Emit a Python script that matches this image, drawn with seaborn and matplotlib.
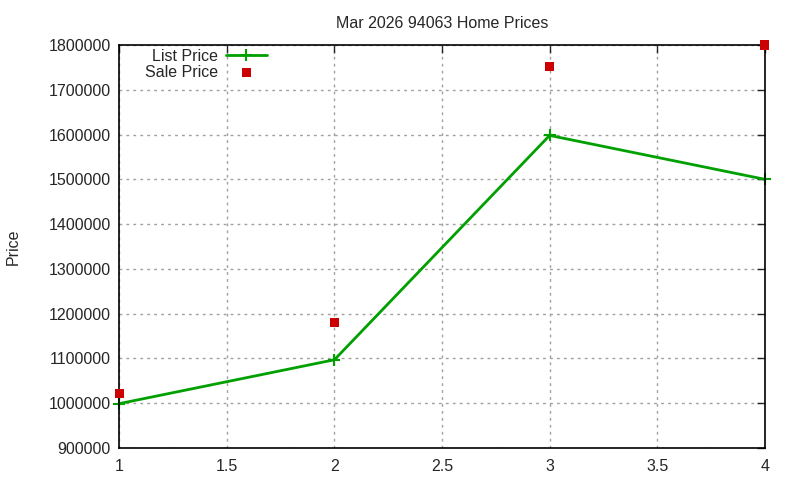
import matplotlib
matplotlib.use("Agg")
import matplotlib.pyplot as plt
import seaborn as sns
import pandas as pd

# data
x_vals = [1, 2, 3, 4]
list_price = [999000, 1097000, 1598000, 1500000]
sale_price = [1022000, 1180000, 1752000, 1800000]
y_ticks = [900000, 1000000, 1100000, 1200000, 1300000, 1400000, 1500000, 1600000, 1700000, 1800000]
x_ticks = [1, 1.5, 2, 2.5, 3, 3.5, 4]

sns.set_style("white")
plt.rcParams['font.family'] = ['Liberation Sans', 'DejaVu Sans']

df = pd.DataFrame({"x": x_vals, "List Price": list_price, "Sale Price": sale_price})

fig = plt.figure(figsize=(8, 4.8), dpi=100)
ax = fig.add_axes([0.149, 0.0667, 0.807, 0.8396])

sns.lineplot(data=df, x="x", y="List Price", ax=ax, color="#00a000", lw=2,
             marker="+", markersize=9, markeredgewidth=1.5, markeredgecolor="#00a000",
             label="List Price", clip_on=False)
sns.scatterplot(data=df, x="x", y="Sale Price", ax=ax, color="#cc0000", marker="s",
                s=45, edgecolor="none", label="Sale Price", zorder=5, clip_on=False)

ax.set_xlim(1, 4)
ax.set_ylim(900000, 1800000)
ax.set_xticks(x_ticks)
ax.set_xticklabels([f"{t:g}" for t in x_ticks])
ax.set_yticks(y_ticks)
ax.set_yticklabels([str(t) for t in y_ticks])
ax.tick_params(direction="in", top=True, right=True, length=6, width=1, labelsize=11.5)
ax.tick_params(axis="x", pad=8)
ax.tick_params(axis="y", pad=6)
ax.grid(True, linestyle=(0, (2, 3)), color="#a0a0a0", lw=1)
for s in ax.spines.values():
    s.set_color("black")
    s.set_linewidth(1.2)

ax.set_xlabel("")
ax.set_ylabel("Price", fontsize=11.5)
ax.yaxis.set_label_coords(-0.153, 0.5)
ax.set_title("Mar 2026 94063 Home Prices", fontsize=11.5, pad=12)

leg = ax.legend(loc="upper left", bbox_to_anchor=(0.022, 1.018), markerfirst=False, frameon=False,
                fontsize=11.5, handlelength=2.6, borderaxespad=0.3, labelspacing=0.05,
                handletextpad=0.5)
for t in leg.get_texts():
    t.set_ha("right")

fig.savefig("out.png", dpi=100)
